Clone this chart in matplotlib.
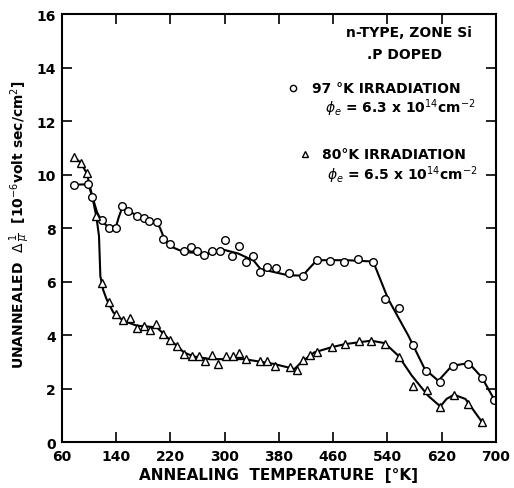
import matplotlib.pyplot as plt
import numpy as np

# 97 K irradiation (circles)
t97 = [78, 99, 105, 119, 129, 140, 149, 158, 171, 181, 189, 200, 210, 220, 240, 251, 260, 269,
       282, 293, 301, 311, 322, 331, 342, 352, 362, 376, 395, 415, 436, 456, 476, 496, 519,
       537, 557, 578, 597, 617, 636, 658, 679, 697]
d97 = [9.62, 9.64, 9.18, 8.31, 8.01, 8.02, 8.81, 8.63, 8.46, 8.36, 8.27, 8.21, 7.59, 7.39, 7.13,
       7.31, 7.13, 6.99, 7.13, 7.13, 7.56, 6.95, 7.34, 6.75, 6.94, 6.37, 6.55, 6.50, 6.32, 6.22,
       6.80, 6.78, 6.74, 6.84, 6.74, 5.35, 5.02, 3.63, 2.67, 2.26, 2.83, 2.92, 2.39, 1.57]
# hand-drawn curve through the 97 K points
c97_t = [78, 99, 105, 112, 118, 128, 140, 144, 149, 160, 200, 205, 212, 222, 240, 280, 297, 320,
         343, 353, 393, 415, 425, 436, 480, 519, 541, 571, 595, 615, 635, 660, 679, 697]
c97_d = [9.62, 9.64, 9.2, 8.6, 8.3, 8.05, 8.05, 8.4, 8.75, 8.6, 8.2, 8.0, 7.55, 7.3, 7.1, 7.05,
         7.2, 7.05, 6.78, 6.47, 6.24, 6.22, 6.5, 6.8, 6.8, 6.75, 5.35, 3.97, 2.73, 2.29, 2.85,
         2.95, 2.42, 1.61]

# 80 K irradiation (triangles)
t80 = [78, 88, 97, 111, 119, 130, 140, 150, 160, 171, 181, 190, 199, 210, 219, 230, 240, 252,
       262, 271, 282, 291, 302, 312, 321, 331, 352, 362, 375, 396, 407, 416, 426, 436, 458,
       478, 498, 516, 536, 557, 577, 599, 618, 638, 658, 679]
d80 = [10.65, 10.45, 10.05, 8.45, 5.95, 5.22, 4.80, 4.55, 4.62, 4.27, 4.33, 4.20, 4.41, 4.05,
       3.80, 3.60, 3.31, 3.23, 3.21, 3.02, 3.27, 2.92, 3.21, 3.21, 3.33, 3.12, 3.02, 3.02, 2.86,
       2.79, 2.71, 3.05, 3.27, 3.37, 3.55, 3.67, 3.77, 3.77, 3.68, 3.17, 2.11, 1.96, 1.30, 1.75,
       1.43, 0.74]
c80_t = [78, 88, 97, 104, 111, 115, 117, 121, 126, 136, 151, 171, 200, 210, 220, 230, 240, 255,
         279, 329, 373, 403, 413, 432, 457, 477, 516, 536, 556, 576, 600, 618, 627, 638, 655, 679]
c80_d = [10.65, 10.45, 10.05, 9.3, 8.45, 7.7, 6.2, 5.7, 5.35, 4.85, 4.53, 4.35, 4.29, 4.05, 3.8,
         3.6, 3.35, 3.2, 3.1, 3.1, 2.92, 2.73, 2.98, 3.35, 3.54, 3.66, 3.79, 3.70, 3.23, 2.48,
         1.73, 1.33, 1.61, 1.77, 1.61, 0.76]

xticks = [60, 140, 220, 300, 380, 460, 540, 620, 700]
yticks = [0, 2, 4, 6, 8, 10, 12, 14, 16]

fig = plt.figure(figsize=(5.14, 4.89), dpi=100)
ax = fig.add_axes([0.12, 0.094, 0.845, 0.875])

ax.plot(c97_t, c97_d, color="black", lw=1.5)
ax.plot(c80_t, c80_d, color="black", lw=1.5)
ax.plot(t97, d97, "o", ms=5.5, mfc="white", mec="black", mew=1.0)
ax.plot(t80, d80, "^", ms=5.5, mfc="white", mec="black", mew=1.0)

ax.set_xlim(60, 700)
ax.set_ylim(0, 16)
ax.set_xticks(xticks)
ax.set_yticks(yticks)
ax.tick_params(direction="in", length=7, width=1.2, top=True, right=True,
               labelsize=10)
ax.tick_params(axis="x", pad=5)
ax.tick_params(axis="y", pad=4)
for tl in ax.get_xticklabels() + ax.get_yticklabels():
    tl.set_fontweight("bold")
for s in ax.spines.values():
    s.set_linewidth(1.5)

ax.set_xlabel("ANNEALING  TEMPERATURE  [°K]", fontsize=11, fontweight="bold", labelpad=3)
# y label placed by hand so it does not run off the left edge
fig.text(0.038, 0.54, r"UNANNEALED  $\Delta\,\frac{1}{\mu}$  [10$^{-6}$volt sec/cm$^{2}$]",
         rotation=90, fontsize=10, fontweight="bold", ha="center", va="center")

tk = dict(transform=ax.transAxes, fontsize=10, fontweight="bold", va="center")
ax.text(0.80, 0.958, "n-TYPE, ZONE Si", ha="center", **tk)
ax.text(0.79, 0.907, ".P DOPED", ha="center", **tk)
ax.plot([0.532], [0.827], "o", ms=4.5, mfc="white", mec="black", transform=ax.transAxes)
ax.text(0.576, 0.827, "97 °K IRRADIATION", ha="left", **tk)
ax.text(0.606, 0.782, r"$\phi_e$ = 6.3 x 10$^{14}$cm$^{-2}$", ha="left", **tk)
ax.plot([0.56], [0.673], "^", ms=4.5, mfc="white", mec="black", transform=ax.transAxes)
ax.text(0.60, 0.673, "80°K IRRADIATION", ha="left", **tk)
ax.text(0.61, 0.626, r"$\phi_e$ = 6.5 x 10$^{14}$cm$^{-2}$", ha="left", **tk)

fig.savefig("out.png", dpi=100)
